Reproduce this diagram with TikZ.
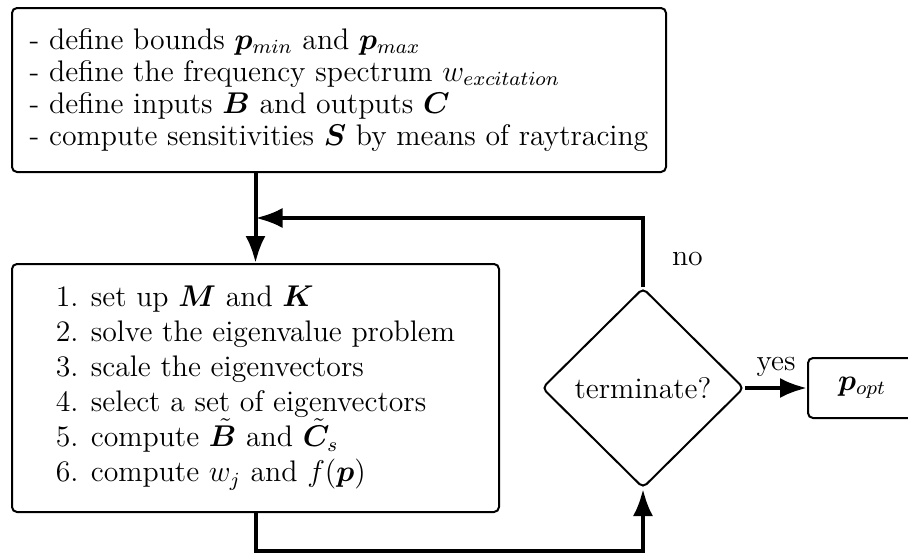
\documentclass[tikz,border=0pt]{standalone}
\usepackage{amsmath,bm}
\usetikzlibrary{shapes.geometric,arrows.meta}
\begin{document}
\begin{tikzpicture}[x=0.4pt,y=-0.4pt,
  box/.style={draw, line width=0.8pt, rounded corners=2pt, inner sep=0pt},
  conn/.style={line width=1.6pt, -{Latex[length=10.8pt,width=8pt]}},
  lbl/.style={inner sep=0pt},
  font=\fontsize{11.9}{12.8}\selectfont]
\useasboundingbox (0,0) rectangle (908,553);
\clip (0,0) rectangle (908,553);
\node[box, minimum height=164*0.4pt, minimum width=654*0.4pt, align=left] (init) at (339,90)
 {- define bounds $\bm{p}_{min}$ and $\bm{p}_{max}$\\
  - define the frequency spectrum $w_{excitation}$\\
  - define inputs $\bm{B}$ and outputs $\bm{C}$\\
  - compute sensitivities $\bm{S}$ by means of raytracing};
\node[box, minimum height=248*0.4pt, minimum width=487*0.4pt, align=left,
  font=\fontsize{11.9}{14}\selectfont] (loop) at (255.5,388)
 {\makebox[14pt][l]{1.}set up $\bm{M}$ and $\bm{K}$\\
  \makebox[14pt][l]{2.}solve the eigenvalue problem\\
  \makebox[14pt][l]{3.}scale the eigenvectors\\
  \makebox[14pt][l]{4.}select a set of eigenvectors\\
  \makebox[14pt][l]{5.}compute $\tilde{\bm{B}}$ and $\tilde{\bm{C}}_s$\\
  \makebox[14pt][l]{6.}compute $w_j$ and $f(\bm{p})$};
\node[draw, diamond, aspect=1, line width=0.8pt, rounded corners=2pt, inner sep=0pt,
  minimum width=202*0.4pt, minimum height=200*0.4pt] (dec) at (643,388) {terminate?};
\node[box, minimum width=108*0.4pt, minimum height=60*0.4pt] (popt) at (862,388) {$\bm{p}_{opt}$};
\coordinate (bot) at (0,551);
\coordinate (top) at (0,218);
\draw[conn] (loop.north |- init.south) -- (loop.north);
\draw[conn] (loop.south) -- (loop.south |- bot) -| (dec.south);
\draw[conn] (dec.north) -- node[lbl, right, xshift=27*0.4pt, pos=0.4] {no} (dec.north |- top) -- (loop.north |- top);
\draw[conn] (dec.east) -- node[lbl, above, yshift=9*0.4pt] {yes} (popt.west);
\end{tikzpicture}
\end{document}
